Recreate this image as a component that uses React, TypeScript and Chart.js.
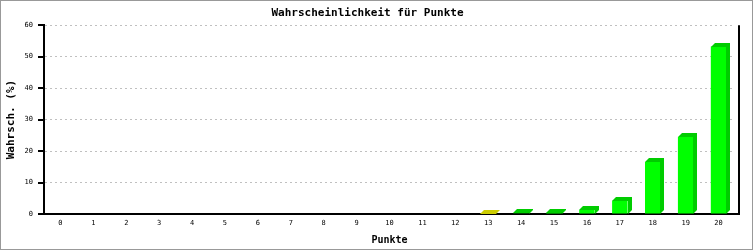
import React, { useEffect, useRef } from "react";
import { Chart, registerables } from "chart.js";

Chart.register(...registerables);

const categories = ["0","1","2","3","4","5","6","7","8","9","10","11","12","13","14","15","16","17","18","19","20"];
const values = [0,0,0,0,0,0,0,0,0,0,0,0,0,0.05,0.2,0.4,1.3,4.2,16.5,24.5,53.2];
const frontColors = categories.map((c) => (c === "13" ? "#ffff00" : "#00ff00"));
const sideColors = categories.map((c) => (c === "13" ? "#cccc00" : "#00cc00"));
const yTicks = [0, 10, 20, 30, 40, 50, 60];

const MONO = "'DejaVu Sans Mono', monospace";

const threeD = {
  id: "threeD",
  afterDatasetsDraw(chart: any) {
    const ctx = chart.ctx;
    const meta = chart.getDatasetMeta(0);
    const d = 4;
    meta.data.forEach((el: any, i: number) => {
      if (!values[i]) return;
      const { x, y, base, width } = el.getProps(["x", "y", "base", "width"], true);
      const l = Math.round(x - width / 2);
      const r = Math.round(x + width / 2);
      const t = Math.round(y);
      const b = Math.round(base);
      ctx.save();
      ctx.fillStyle = sideColors[i];
      ctx.beginPath();
      ctx.moveTo(l, t);
      ctx.lineTo(l + d, t - d);
      ctx.lineTo(r + d, t - d);
      ctx.lineTo(r + d, b - d);
      ctx.lineTo(r, b);
      ctx.lineTo(r, t);
      ctx.closePath();
      ctx.fill();
      ctx.restore();
    });
  },
  afterDraw(chart: any) {
    const ctx = chart.ctx;
    const a = chart.chartArea;
    const ys = chart.scales.y;
    ctx.save();
    ctx.setLineDash([]);
    ctx.strokeStyle = "#000";
    ctx.lineWidth = 2;
    ctx.beginPath();
    ctx.moveTo(a.right + 4, a.top);
    ctx.lineTo(a.right + 4, a.bottom + 1);
    ctx.moveTo(a.right - 1, a.bottom);
    ctx.lineTo(a.right + 5, a.bottom);
    ctx.stroke();
    yTicks.forEach((v) => {
      const py = Math.round(ys.getPixelForValue(v));
      ctx.fillStyle = "#000";
      ctx.fillRect(a.left - 6, py - 1, 6, 2);
    });
    ctx.strokeStyle = "#999";
    ctx.lineWidth = 2;
    ctx.strokeRect(0, 0, chart.width, chart.height);
    ctx.restore();
  },
};

export default function App() {
  const ref = useRef<HTMLCanvasElement>(null);
  useEffect(() => {
    document.body.style.margin = "0";
    const chart = new Chart(ref.current!, {
      type: "bar",
      data: {
        labels: categories,
        datasets: [
          {
            data: values,
            backgroundColor: frontColors,
            borderWidth: 0,
            categoryPercentage: 1,
            barPercentage: 0.47,
          },
        ],
      },
      options: {
        animation: false,
        responsive: false,
        maintainAspectRatio: false,
        layout: { padding: { left: 0, right: 18, top: 0, bottom: 0 } },
        plugins: {
          legend: { display: false },
          tooltip: { enabled: false },
          title: {
            display: true,
            text: "Wahrscheinlichkeit für Punkte",
            color: "#000",
            font: { family: MONO, size: 11, weight: "bold", lineHeight: 1.2 },
            padding: { top: 7, bottom: 5 },
          },
        },
        scales: {
          x: {
            grid: { display: false, drawTicks: false },
            border: { display: true, color: "#000", width: 2 },
            ticks: { color: "#000", font: { family: MONO, size: 7 }, padding: 5, maxRotation: 0, autoSkip: false },
            title: {
              display: true,
              text: "Punkte",
              color: "#000",
              font: { family: MONO, size: 10, weight: "bold", lineHeight: 1.2 },
              padding: { top: 2, bottom: 4 },
            },
            afterFit: (s: any) => { s.height = 36; },
          },
          y: {
            min: 0,
            max: 60,
            afterBuildTicks: (s: any) => { s.ticks = yTicks.map((v) => ({ value: v })); },
            grid: {
              color: "#c0c0c0",
              lineWidth: 1,
              drawTicks: false,
            },
            border: { display: true, color: "#000", width: 2, dash: [2, 3] },
            ticks: { color: "#000", font: { family: MONO, size: 7 }, padding: 11 },
            title: {
              display: true,
              text: "Wahrsch. (%)",
              color: "#000",
              font: { family: MONO, size: 11, weight: "bold", lineHeight: 1.2 },
              padding: { top: 5, bottom: 0 },
            },
            afterFit: (s: any) => { s.width = 44; },
          },
        },
      },
      plugins: [threeD],
    });
    return () => chart.destroy();
  }, []);
  return <canvas ref={ref} width={753} height={250} style={{ display: "block" }} />;
}
